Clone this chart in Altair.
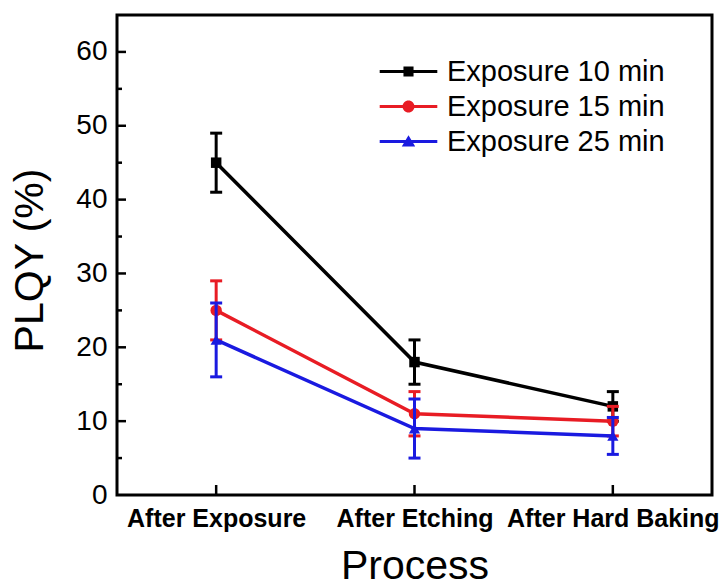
import altair as alt
import pandas as pd

# ---- data ----
processes = ["After Exposure", "After Etching", "After Hard Baking"]
process_pos = [1, 2, 3]
series_names = ["Exposure 10 min", "Exposure 15 min", "Exposure 25 min"]
plqy_10 = [45, 18, 12]
err_10 = [4, 3, 2]
plqy_15 = [25, 11, 10]
err_15 = [4, 3, 2]
plqy_25 = [21, 9, 8]
err_25 = [5, 4, 2.5]
y_major = [10, 20, 30, 40, 50, 60]
y_minor = [5, 15, 25, 35, 45, 55]
y_labels = [0, 10, 20, 30, 40, 50, 60]

# ---- styles ----
colors = ["#000000", "#e81c24", "#1a1ae0"]
markers = ["square", "circle", "triangle-up"]
marker_sizes = [110, 130, 125]
FONT = "Liberation Sans"

rows = []
for name, vals, errs in [(series_names[0], plqy_10, err_10),
                         (series_names[1], plqy_15, err_15),
                         (series_names[2], plqy_25, err_25)]:
    for p, v, e in zip(process_pos, vals, errs):
        rows.append({"series": name, "pos": p, "plqy": v, "lo": v - e, "hi": v + e})
df = pd.DataFrame(rows)

xscale = alt.Scale(domain=[0.5, 3.5], nice=False, zero=False)
yscale = alt.Scale(domain=[0, 65], nice=False, zero=False)

label_expr = "[" + ",".join("'" + s + "'" for s in processes) + "][datum.value - 1]"

x_axis = alt.Axis(values=process_pos, labelExpr=label_expr, title="Process",
                  domain=False, grid=False, ticks=False, tickSize=0,
                  labelFont=FONT, labelFontSize=25, labelFontWeight="bold",
                  labelColor="black", labelPadding=11, labelFlush=False,
                  labelOverlap=False, labelLimit=0,
                  titleFont=FONT, titleFontSize=41, titleFontWeight="normal",
                  titleColor="black", titleY=71, titleBaseline="middle")
y_axis = alt.Axis(values=y_labels, title="PLQY (%)", domain=False, grid=False,
                  ticks=False, tickSize=0,
                  labelFont=FONT, labelFontSize=28, labelColor="black",
                  labelPadding=10,
                  titleFont=FONT, titleFontSize=41, titleFontWeight="normal",
                  titleColor="black", titleX=-87, titleY=245,
                  titleAlign="center", titleBaseline="middle")


def X(field):
    return alt.X(field, scale=xscale, axis=x_axis)


def Y(field):
    return alt.Y(field, scale=yscale, axis=y_axis)


layers = []

# inward ticks
layers.append(alt.Chart(pd.DataFrame({"v": y_major})).mark_rule(color="black", strokeWidth=2.5).encode(
    y=Y("v:Q"), x=alt.value(0), x2=alt.value(9)))
layers.append(alt.Chart(pd.DataFrame({"v": y_minor})).mark_rule(color="black", strokeWidth=2.5).encode(
    y=Y("v:Q"), x=alt.value(0), x2=alt.value(5)))
layers.append(alt.Chart(pd.DataFrame({"p": process_pos})).mark_rule(color="black", strokeWidth=2.5).encode(
    x=X("p:Q"), y=alt.value(480), y2=alt.value(470)))

for i, name in enumerate(series_names):
    base = alt.Chart(df).transform_filter(alt.datum.series == name)
    c = colors[i]
    layers.append(base.mark_rule(color=c, strokeWidth=3, opacity=1).encode(
        x=X("pos:Q"), y=Y("lo:Q"), y2="hi:Q"))
    for f in ["lo", "hi"]:
        layers.append(base.mark_tick(color=c, orient="horizontal", size=12, thickness=3,
                                     opacity=1).encode(x=X("pos:Q"), y=Y(f + ":Q")))
    layers.append(base.mark_line(color=c, strokeWidth=3.5, opacity=1).encode(
        x=X("pos:Q"), y=Y("plqy:Q")))
    layers.append(base.mark_point(color=c, filled=True, opacity=1, shape=markers[i],
                                  size=marker_sizes[i]).encode(x=X("pos:Q"), y=Y("plqy:Q")))

# legend layer: symbol = line segment + marker (custom paths), no visible data marks
line_part = "M-2.4,-0.13L2.4,-0.13L2.4,0.13L-2.4,0.13Z"
legend_paths = [
    line_part + "M-0.42,-0.42L0.42,-0.42L0.42,0.42L-0.42,0.42Z",
    line_part + "M-0.5,0A0.5,0.5,0,1,1,0.5,0A0.5,0.5,0,1,1,-0.5,0Z",
    line_part + "M0,-0.52L0.56,0.42L-0.56,0.42Z",
]
leg = alt.Legend(orient="none", legendX=277, legendY=42, title=None,
                 labelFont=FONT, labelFontSize=29, labelColor="black", labelLimit=400,
                 symbolSize=576, symbolStrokeWidth=0, labelOffset=24,
                 rowPadding=5, padding=0, symbolOpacity=1)
layers.append(
    alt.Chart(df).transform_filter("false").mark_point(filled=True, size=576, opacity=1).encode(
        x=X("pos:Q"),
        y=Y("plqy:Q"),
        color=alt.Color("series:N", scale=alt.Scale(domain=series_names, range=colors), legend=leg),
        shape=alt.Shape("series:N", scale=alt.Scale(domain=series_names, range=legend_paths), legend=leg),
    )
)

chart = alt.layer(*layers).properties(
    width=595, height=480,
    autosize=alt.AutoSizeParams(type="none"),
    padding={"left": 117, "top": 15, "right": 11, "bottom": 91},
    background="white",
).configure(font=FONT).configure_view(stroke="black", strokeWidth=3)

chart.save("out.html", embed_options={"renderer": "svg", "actions": False})
